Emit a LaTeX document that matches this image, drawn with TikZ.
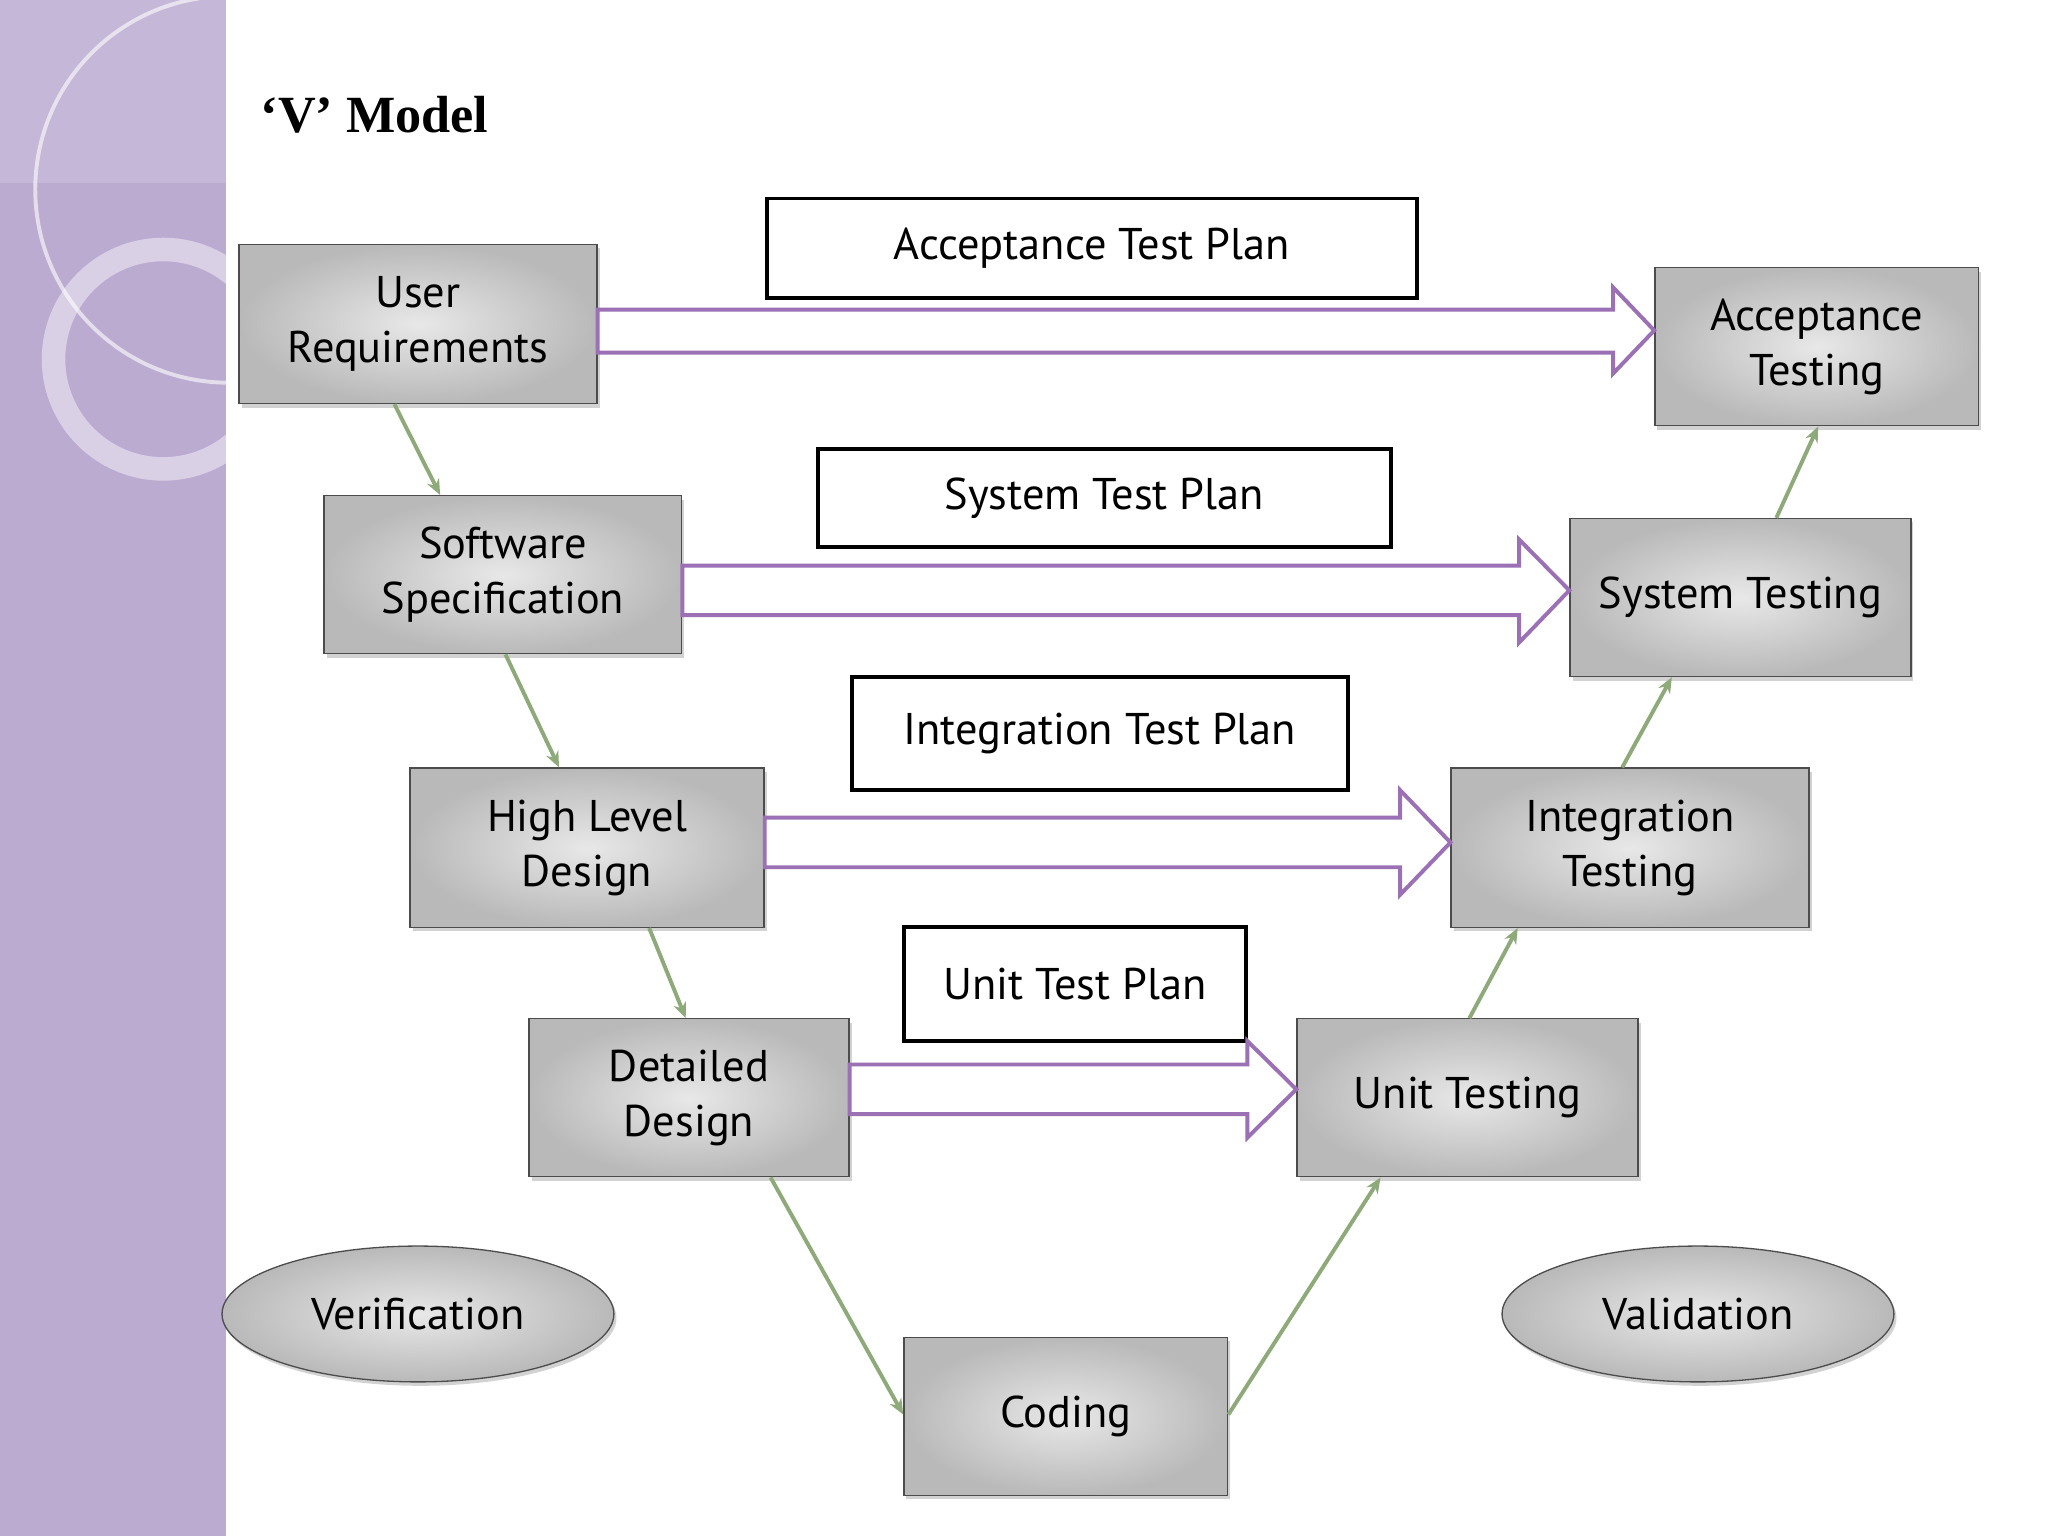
\documentclass[tikz,border=0pt]{standalone}
\usepackage{fontspec}
\setmainfont{Liberation Serif}
\newfontfamily\boxfont{PT Sans}
\usetikzlibrary{shadows,shapes.geometric,arrows.meta}
\definecolor{band}{HTML}{BBABD1}
\definecolor{vpurple}{HTML}{9B70B5}
\definecolor{vgreen}{HTML}{8FAA7A}
\begin{document}
\begin{tikzpicture}[x=1pt,y=-1pt,
  gbox/.style={draw=black!70,line width=1pt,inner color=gray!18,outer color=gray!55,
    drop shadow={opacity=0.35,shadow xshift=2pt,shadow yshift=-3pt},
    font=\boxfont\fontsize{34}{42}\selectfont,align=center,text=black},
  wbox/.style={draw=black,line width=3pt,fill=white,font=\boxfont\fontsize{34}{42}\selectfont},
  ell/.style={ellipse,draw=black!70,line width=1pt,inner color=gray!18,outer color=gray!55,
    drop shadow={opacity=0.35,shadow xshift=2pt,shadow yshift=-3pt},
    minimum width=300pt,minimum height=104pt,font=\boxfont\fontsize{34}{42}\selectfont},
  blk/.style={draw=vpurple,line width=3pt,fill=white,line join=miter},
  garr/.style={draw=vgreen,line width=3pt,-{Stealth[length=12pt,width=10pt]}}]
\useasboundingbox (0,0) rectangle (1568,1176);
\fill[white] (0,0) rectangle (1568,1176);
\fill[band] (0,0) rectangle (173,1176);
\begin{scope}
\clip (0,0) rectangle (173,1176);
\draw[white,opacity=0.6,line width=3pt] (175,145) circle (148);
\draw[white,opacity=0.45,line width=18pt] (125,275) circle (84);
\fill[white,opacity=0.15] (0,0) rectangle (173,140);
\end{scope}
\node[anchor=west,font=\fontsize{40}{48}\selectfont\bfseries] (title) at (196,88) {‘V’ Model};
% gray boxes
\node[gbox,minimum width=274pt,minimum height=122pt] (ur) at (320,248) {User\\Requirements};
\node[gbox,minimum width=274pt,minimum height=121pt] (ss) at (385,440) {Software\\Specification};
\node[gbox,minimum width=271pt,minimum height=122pt] (hld) at (449.5,649) {High Level\\Design};
\node[gbox,minimum width=245pt,minimum height=121pt] (dd) at (527.5,840.5) {Detailed\\Design};
\node[gbox,minimum width=248pt,minimum height=121pt] (cod) at (816,1084.5) {Coding};
\node[gbox,minimum width=261pt,minimum height=121pt] (ut) at (1123.5,840.5) {Unit Testing};
\node[gbox,minimum width=274pt,minimum height=122pt] (it) at (1248,649) {Integration\\Testing};
\node[gbox,minimum width=261pt,minimum height=121pt] (st) at (1332.5,457.5) {System Testing};
\node[gbox,minimum width=248pt,minimum height=121pt] (at) at (1391,265.5) {Acceptance\\Testing};
% white boxes
\node[wbox,minimum width=498pt,minimum height=76pt] (atp) at (836,190) {Acceptance Test Plan};
\node[wbox,minimum width=439pt,minimum height=75pt] (stp) at (845.5,381.5) {System Test Plan};
\node[wbox,minimum width=380pt,minimum height=87pt] (itp) at (842,561.5) {Integration Test Plan};
\node[wbox,minimum width=262pt,minimum height=87pt] (utp) at (823,753.5) {Unit Test Plan};
% ellipses
\node[ell] (ver) at (320,1006) {Verification};
\node[ell] (val) at (1300,1006) {Validation};
% block arrows
\draw[blk] (ur.east|-0,237) -- (1235,237) -- (1235,220) -- (at.west|-0,253) -- (1235,286) -- (1235,270) -- (ur.east|-0,270) -- cycle;
\draw[blk] (ss.east|-0,433) -- (1163,433) -- (1163,413) -- (st.west|-0,452) -- (1163,492) -- (1163,471) -- (ss.east|-0,471) -- cycle;
\draw[blk] (hld.east|-0,626) -- (1072,626) -- (1072,605) -- (it.west|-0,645) -- (1072,685) -- (1072,664) -- (hld.east|-0,664) -- cycle;
\draw[blk] (dd.east|-0,815) -- (955,815) -- (955,797) -- (ut.west|-0,834) -- (955,871) -- (955,853) -- (dd.east|-0,853) -- cycle;
% green arrows
\draw[garr] (ur.south-|302,0) -- (ss.north-|337,0);
\draw[garr] (ss.south-|387,0) -- (hld.north-|428,0);
\draw[garr] (hld.south-|497,0) -- (dd.north-|525,0);
\draw[garr] (dd.south-|590,0) -- (cod.west|-0,1083);
\draw[garr] (cod.east|-0,1083) -- (ut.south-|1057,0);
\draw[garr] (ut.north-|1125,0) -- (it.south-|1162,0);
\draw[garr] (it.north-|1242,0) -- (st.south-|1280,0);
\draw[garr] (st.north-|1360,0) -- (at.south-|1392,0);
\end{tikzpicture}
\end{document}
